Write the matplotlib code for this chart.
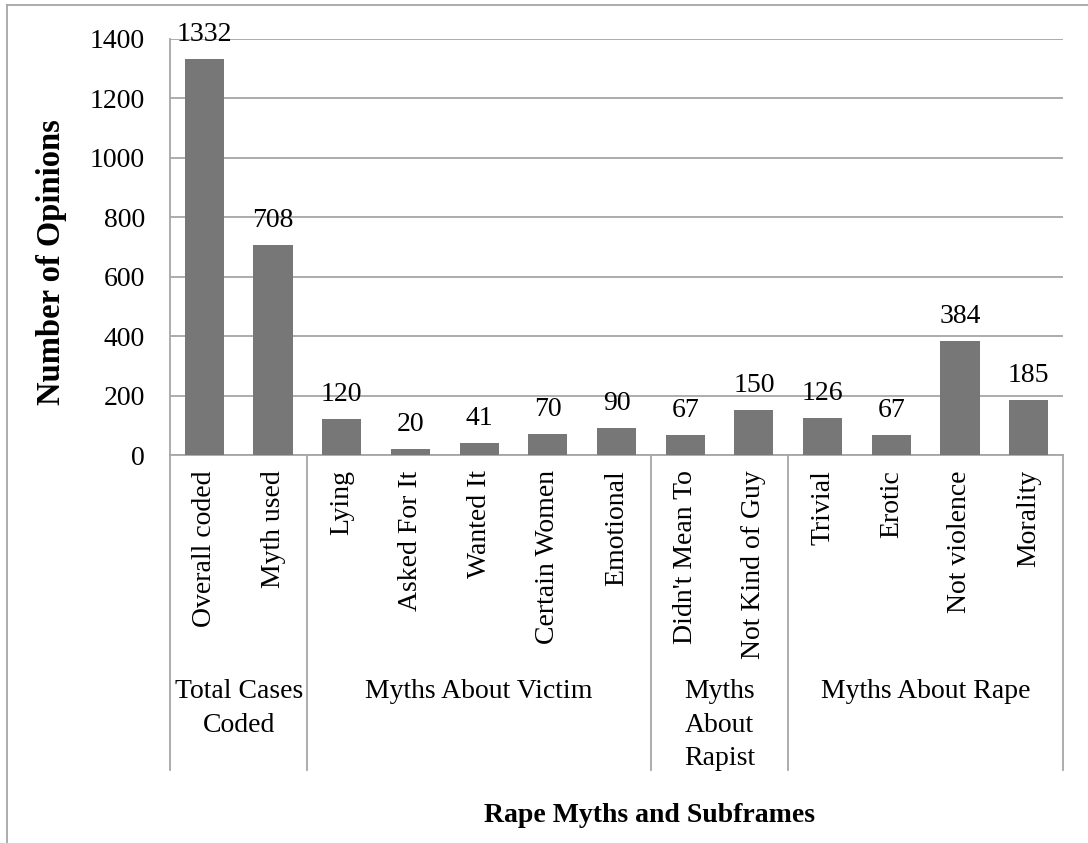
#!/usr/bin/env python3
"""Bar chart of rape myth subframes, grouped on a two-level category axis."""
import matplotlib
matplotlib.use("Agg")
import matplotlib.pyplot as plt

W, H = 1088, 843

categories = ["Overall coded", "Myth used", "Lying", "Asked For It", "Wanted It",
              "Certain Women", "Emotional", "Didn't Mean To", "Not Kind of Guy",
              "Trivial", "Erotic", "Not violence", "Morality"]
counts = [1332, 708, 120, 20, 41, 70, 90, 67, 150, 126, 67, 384, 185]
groups = ["Total Cases\nCoded", "Myths About Victim", "Myths\nAbout\nRapist", "Myths About Rape"]
group_sizes = [2, 5, 2, 4]
y_ticks = [0, 200, 400, 600, 800, 1000, 1200, 1400]

plt.rcParams["font.family"] = ["Liberation Serif", "DejaVu Serif"]
GRID = "#a6a6a6"
FS = 20

fig = plt.figure(figsize=(W / 100, H / 100), dpi=100)
left, right, top, bottom = 170, 1063, 39, 455
ax = fig.add_axes([left / W, 1 - bottom / H, (right - left) / W, (bottom - top) / H])

x = list(range(len(categories)))
ax.bar(x, counts, width=0.57, color="#777777", zorder=3)
for xi, v in zip(x, counts):
    ax.annotate(str(v), (xi, v), xytext=(0, 13), textcoords="offset points",
                ha="center", va="baseline", fontsize=FS, zorder=4)

ax.set_xlim(-0.5, len(categories) - 0.5)
ax.set_ylim(0, 1400)
ax.set_yticks(y_ticks)
ax.tick_params(axis="y", length=0, pad=18, labelsize=FS)
ax.yaxis.grid(True, color=GRID, linewidth=1.3)
ax.set_axisbelow(True)

ax.set_xticks(x)
ax.set_xticklabels(categories, rotation=90, fontsize=FS)
ax.tick_params(axis="x", length=0, pad=11)

for side in ["top", "right"]:
    ax.spines[side].set_visible(False)
for side in ["left", "bottom"]:
    ax.spines[side].set_color(GRID)
    ax.spines[side].set_linewidth(1.3)

# group separators and group labels below the tick labels
trans = ax.get_xaxis_transform()
sep_bottom = -(770 - bottom) / (bottom - top)
label_y = -(679 - bottom) / (bottom - top)
start = -0.5
edges = [start]
for g, n in zip(groups, group_sizes):
    end = start + n
    ax.text((start + end) / 2, label_y, g, transform=trans, ha="center", va="top",
            fontsize=FS, linespacing=1.45)
    edges.append(end)
    start = end
for e in edges:
    ax.plot([e, e], [0, sep_bottom], transform=trans, color=GRID, linewidth=1.3,
            clip_on=False)

ax.set_ylabel("Number of Opinions", fontsize=23.5, fontweight="bold")
ax.yaxis.set_label_coords(-(left - 67) / (right - left), (bottom - 262) / (bottom - top))
fig.text(650 / W, 1 - 816 / H, "Rape Myths and Subframes", ha="center", va="center",
         fontsize=20, fontweight="bold")

# outer chart border (top and left edges visible)
fig.add_artist(plt.Line2D([7 / W, 1], [1 - 5 / H, 1 - 5 / H], color=GRID, linewidth=1.3))
fig.add_artist(plt.Line2D([7 / W, 7 / W], [0, 1 - 5 / H], color=GRID, linewidth=1.3))

fig.savefig("out.png", dpi=100)
